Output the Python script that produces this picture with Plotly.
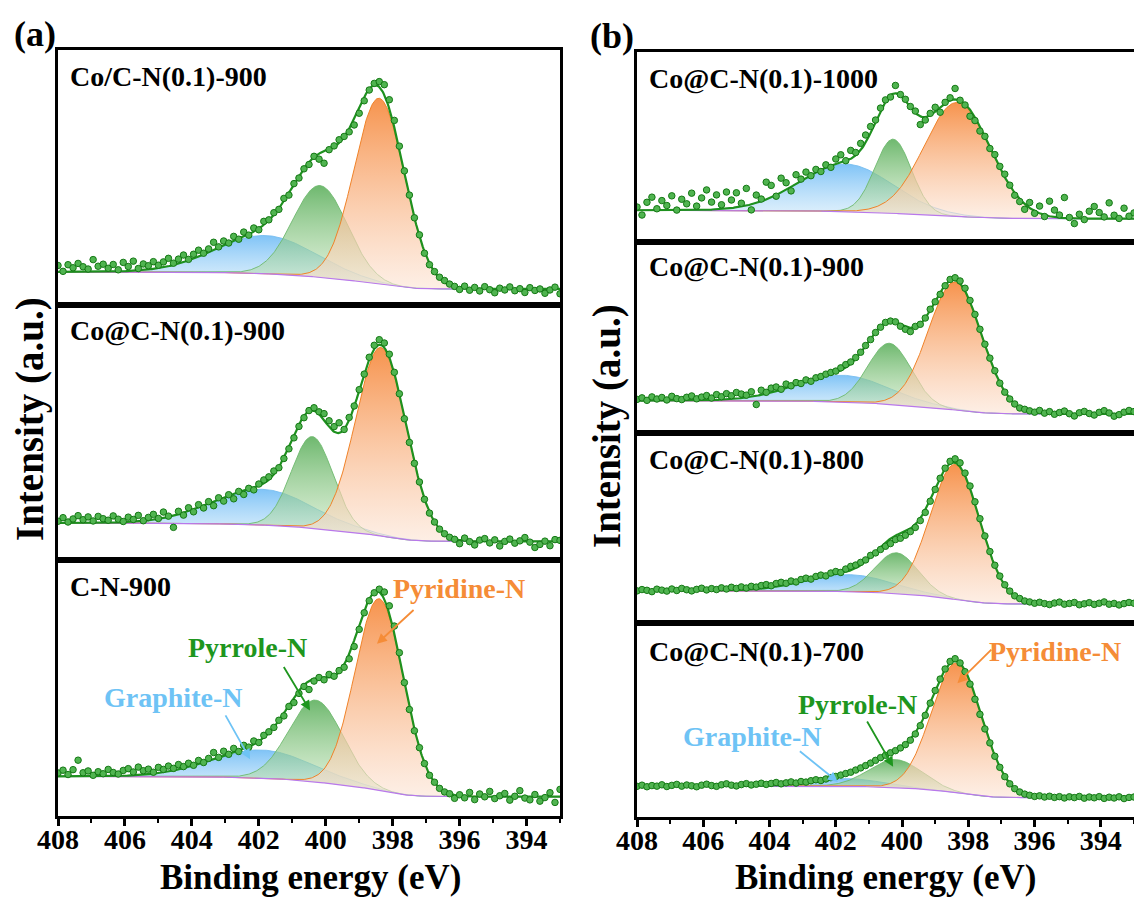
import numpy as np
import plotly.graph_objects as go

W, H = 1134, 900

# Binding-energy grid of the recorded spectra (eV) and of the fitted curves
BE = np.linspace(408.0, 393.0, 101)
FIT_BE = np.linspace(408.0, 393.0, 601)

TICK_VALUES = [408, 406, 404, 402, 400, 398, 396, 394]
TICK_LABELS = ["408", "406", "404", "402", "400", "398", "396", "394"]

COMPONENTS = ["Graphite-N", "Pyrrole-N", "Pyridine-N"]

# Fitted components: [centre (eV), height, sigma] for Graphite-N, Pyrrole-N, Pyridine-N
# Background: [high-BE level, low-BE level]  (intensity in % of each sub-frame)
A1_NAME = "Co/C-N(0.1)-900"
A1_PEAKS = [[401.8, 15, 1.49], [400.17, 36, 0.81], [398.4, 73, 0.75]]
A1_BG = [13.0, 6.3]
A1_DATA = [15.5, 13.2, 15.8, 14.6, 16.3, 15.0, 14.1, 17.8, 15.2, 16.0,
           14.4, 15.9, 13.8, 16.7, 15.1, 17.2, 14.3, 16.1, 15.4, 17.0,
           15.6, 16.9, 18.3, 16.4, 18.0, 19.6, 17.9, 19.9, 21.5, 20.3,
           22.0, 24.6, 22.8, 25.1, 24.3, 26.9, 25.8, 28.6, 27.4, 30.2,
           29.5, 32.8, 33.4, 36.2, 37.5, 41.8, 43.1, 47.6, 49.8, 53.4,
           55.1, 58.3, 57.2, 55.6, 60.9, 62.4, 64.8, 66.1, 67.9, 70.6,
           75.2, 80.1, 84.3, 86.9, 87.6, 86.4, 80.5, 72.4, 62.3, 52.6,
           43.1, 34.2, 27.5, 20.3, 15.8, 13.1, 10.9, 9.6, 8.2, 7.3,
           6.1, 7.4, 5.8, 6.9, 5.5, 7.2, 6.0, 4.8, 6.6, 5.9,
           7.1, 5.6, 6.4, 4.9, 6.8, 5.7, 6.3, 4.6, 5.9, 7.0, 4.4]

A2_NAME = "Co@C-N(0.1)-900"
A2_PEAKS = [[401.9, 14, 1.5], [400.4, 36, 0.62], [398.35, 74, 0.75]]
A2_BG = [14.5, 7.3]
A2_DATA = [15.2, 16.6, 14.9, 16.1, 17.4, 15.8, 16.9, 15.3, 17.1, 16.2,
           15.6, 17.3, 16.0, 15.1, 16.8, 15.9, 17.5, 15.4, 16.7, 17.9,
           16.3, 18.8, 17.2, 12.8, 19.1, 17.6, 20.5, 18.9, 21.7, 20.4,
           22.9, 21.3, 24.4, 23.1, 25.6, 24.0, 26.9, 25.7, 28.1, 27.5,
           29.8, 31.4, 32.6, 34.9, 36.2, 39.8, 43.6, 47.9, 52.4, 55.8,
           58.6, 59.7, 58.1, 57.4, 54.6, 52.3, 53.8, 51.2, 55.9, 60.4,
           66.8, 72.9, 79.5, 84.2, 86.4, 85.1, 80.7, 73.6, 65.2, 55.4,
           46.1, 37.9, 30.6, 23.8, 18.4, 14.9, 12.1, 10.3, 8.9, 8.1,
           6.4, 8.6, 7.2, 5.9, 7.8, 8.4, 6.7, 7.9, 5.5, 7.3,
           8.2, 6.6, 7.5, 8.8, 7.0, 4.9, 6.1, 7.4, 5.6, 8.0, 7.7]

A3_NAME = "C-N-900"
A3_PEAKS = [[401.9, 11, 1.5], [400.3, 32, 0.8], [398.4, 75, 0.72]]
A3_BG = [15.5, 7.6]
A3_DATA = [16.8, 17.9, 16.2, 18.1, 21.8, 16.9, 17.6, 15.9, 17.3, 16.5,
           18.2, 17.0, 16.4, 17.8, 18.5, 17.2, 19.1, 17.7, 18.3, 17.1,
           19.0, 18.2, 19.5, 18.6, 20.1, 19.3, 20.6, 19.8, 21.7, 20.9,
           22.5, 24.8, 22.9, 25.3, 24.1, 26.4, 25.2, 27.6, 26.9, 29.3,
           28.7, 31.5, 32.9, 34.6, 37.4, 39.1, 42.8, 44.3, 47.9, 50.6,
           49.4, 52.7, 54.1, 53.2, 55.3, 54.6, 56.8, 58.1, 61.4, 66.2,
           72.9, 79.4, 84.1, 87.2, 88.6, 87.5, 82.1, 74.2, 63.8, 52.1,
           41.6, 33.3, 26.7, 20.5, 15.9, 13.2, 10.8, 9.4, 8.7, 6.9,
           8.3, 7.1, 9.2, 6.4, 8.6, 7.5, 9.6, 6.8, 7.9, 8.8,
           6.2, 7.7, 9.9, 7.0, 6.3, 8.4, 5.8, 7.2, 9.1, 5.3, 10.4]

B1_NAME = "Co@C-N(0.1)-1000"
B1_PEAKS = [[401.7, 25, 1.4], [400.27, 39, 0.55], [398.33, 60, 1.0]]
B1_BG = [16.7, 12.3]
B1_DATA = [18.4, 14.2, 20.9, 23.6, 17.5, 21.8, 19.2, 24.3, 16.8, 22.5,
           20.1, 25.7, 18.9, 23.2, 27.4, 21.0, 24.8, 19.6, 26.3, 22.1,
           25.9, 20.4, 28.2, 16.9, 24.7, 22.6, 31.5, 29.8, 24.1, 33.6,
           31.2, 26.9, 35.4, 33.1, 36.8, 34.9, 38.2, 37.1, 40.6, 39.3,
           43.7, 45.9, 42.8, 48.2, 47.1, 51.9, 56.3, 60.8, 64.2, 70.5,
           74.8, 76.3, 82.4, 77.6, 75.1, 71.3, 68.9, 61.8, 64.2, 67.7,
           70.9, 68.3, 73.5, 75.9, 80.8, 74.6, 72.1, 66.2, 63.9, 58.4,
           55.6, 49.2, 46.0, 39.8, 35.7, 29.9, 24.6, 21.3, 17.2, 20.8,
           15.1, 18.9, 13.4, 21.5, 16.8, 14.2, 23.4, 12.9, 9.7, 14.6,
           11.8, 16.2, 18.7, 15.5, 13.2, 20.6, 14.1, 12.4, 17.8, 13.6, 15.3]

B2_NAME = "Co@C-N(0.1)-900"
B2_PEAKS = [[401.8, 14, 1.4], [400.38, 32, 0.65], [398.4, 67, 0.8]]
B2_BG = [17.0, 10.0]
B2_DATA = [17.6, 18.4, 17.1, 18.9, 17.8, 18.6, 17.3, 19.2, 18.0, 17.5,
           18.7, 19.4, 17.9, 18.8, 19.6, 18.3, 20.1, 19.0, 20.6, 19.5,
           21.2, 20.4, 19.8, 21.6, 14.9, 22.4, 21.3, 23.5, 24.1, 22.9,
           25.6, 24.7, 26.4, 25.9, 27.8, 27.1, 28.9, 29.6, 30.8, 31.7,
           32.4, 34.1, 35.8, 37.2, 39.5, 42.3, 45.8, 48.9, 52.6, 55.4,
           57.9, 58.6, 58.2, 55.9, 54.3, 53.1, 55.8, 56.9, 60.2, 64.8,
           68.7, 72.6, 77.1, 80.4, 81.3, 79.6, 75.8, 69.4, 62.1, 54.3,
           46.5, 39.2, 32.6, 26.1, 21.4, 17.8, 15.2, 13.1, 12.4, 11.6,
           10.9, 11.8, 10.4, 11.2, 9.8, 10.7, 11.5, 10.1, 8.9, 10.6,
           11.3, 10.2, 9.4, 10.8, 11.7, 10.5, 8.8, 9.6, 10.9, 11.8, 11.2]

B3_NAME = "Co@C-N(0.1)-800"
B3_PEAKS = [[401.6, 9, 1.3], [400.17, 21.5, 0.65], [398.4, 71, 0.75]]
B3_BG = [17.0, 10.0]
B3_DATA = [16.9, 17.6, 17.2, 16.5, 17.8, 17.3, 16.8, 17.9, 17.1, 18.2,
           17.5, 16.9, 17.7, 18.3, 17.4, 18.1, 17.6, 18.5, 17.9, 18.8,
           18.2, 19.0, 18.4, 19.3, 18.9, 19.7, 20.2, 19.6, 20.8, 21.4,
           20.9, 22.1, 21.6, 22.9, 23.6, 23.1, 24.5, 25.2, 24.8, 26.3,
           27.1, 26.6, 28.4, 29.8, 30.5, 31.9, 33.2, 35.6, 36.9, 38.7,
           40.4, 41.8, 43.9, 44.6, 46.2, 48.1, 50.3, 53.9, 58.2, 64.1,
           70.3, 76.2, 81.5, 85.1, 86.4, 84.3, 78.9, 72.1, 63.8, 54.9,
           45.8, 37.6, 30.4, 24.7, 20.1, 16.8, 14.3, 12.9, 11.6, 11.1,
           10.4, 10.9, 10.2, 9.7, 10.5, 11.0, 9.9, 10.3, 10.8, 9.6,
           10.1, 10.7, 9.8, 10.4, 11.1, 9.9, 10.3, 9.5, 10.2, 10.8, 10.4]

B4_NAME = "Co@C-N(0.1)-700"
B4_PEAKS = [[401.6, 4, 1.0], [400.2, 14.5, 0.8], [398.35, 67, 0.76]]
B4_BG = [16.0, 10.0]
B4_DATA = [15.8, 16.4, 15.6, 16.2, 15.9, 16.6, 15.7, 16.3, 16.8, 15.9,
           16.5, 16.1, 15.6, 16.4, 16.9, 16.2, 15.8, 16.6, 17.1, 16.4,
           16.0, 16.7, 17.2, 16.5, 16.9, 17.4, 16.8, 17.3, 17.8, 17.1,
           17.6, 18.1, 17.5, 18.3, 18.0, 18.7, 19.2, 18.8, 19.6, 20.3,
           20.9, 21.6, 22.4, 23.1, 24.2, 25.3, 26.5, 27.8, 29.2, 30.6,
           31.8, 33.1, 34.2, 35.6, 37.3, 39.6, 42.8, 47.1, 52.4, 58.7,
           65.2, 71.1, 76.3, 80.2, 81.6, 79.4, 74.9, 68.5, 60.7, 52.9,
           45.4, 38.2, 31.3, 25.6, 20.8, 17.1, 14.6, 12.9, 11.8, 11.2,
           10.6, 10.9, 10.3, 10.7, 10.1, 10.5, 9.8, 10.4, 10.0, 10.6,
           9.7, 10.3, 9.9, 10.5, 9.6, 10.2, 9.8, 10.4, 9.5, 10.1, 10.3]

# ---------------------------------------------------------------- styling
SERIF = "Liberation Serif"
FILL_TOP = ["rgba(105,185,245,0.85)", "rgba(85,172,85,0.85)", "rgba(246,138,62,0.92)"]
FILL_BOT = ["rgba(205,232,250,0.55)", "rgba(200,230,190,0.5)", "rgba(252,228,212,0.6)"]
EDGE = ["rgba(120,190,240,0.9)", "rgba(110,185,110,0.9)", "rgba(240,130,40,1)"]
LABEL_COL = ["rgb(110,195,245)", "rgb(30,150,30)", "rgb(245,140,55)"]

# sub-frame geometry in pixels: (left, right, top, bottom)
FRAMES = [
    (58, 560, 50, 305), (58, 560, 305, 560), (58, 560, 560, 816),
    (637, 1134, 52, 242), (637, 1134, 242, 433), (637, 1134, 433, 623), (637, 1134, 623, 817),
]
SPECTRA = [
    (A1_NAME, A1_PEAKS, A1_BG, A1_DATA), (A2_NAME, A2_PEAKS, A2_BG, A2_DATA),
    (A3_NAME, A3_PEAKS, A3_BG, A3_DATA), (B1_NAME, B1_PEAKS, B1_BG, B1_DATA),
    (B2_NAME, B2_PEAKS, B2_BG, B2_DATA), (B3_NAME, B3_PEAKS, B3_BG, B3_DATA),
    (B4_NAME, B4_PEAKS, B4_BG, B4_DATA),
]
LABEL_Y = [89.5, 90, 89.5, 86, 87, 86, 85.3]
BOTTOM = {2, 6}


def gauss(x, c, h, s):
    return h * np.exp(-(x - c) ** 2 / (2 * s * s))


def shirley(x, peaks, hi, lo):
    tot = sum(gauss(x, *p) for p in peaks)
    rev = tot[::-1]
    cum = np.concatenate([[0.0], np.cumsum((rev[1:] + rev[:-1]) / 2)])[::-1]
    return lo + (hi - lo) * cum / cum[0]


fig = go.Figure()
layout = {}
annotations = []

for k, ((name, peaks, bg, data), (l, r, t, b)) in enumerate(zip(SPECTRA, FRAMES)):
    i = k + 1
    xa = "x" if i == 1 else f"x{i}"
    ya = "y" if i == 1 else f"y{i}"
    base = shirley(FIT_BE, peaks, bg[0], bg[1])
    for j, p in enumerate(peaks):
        fig.add_trace(go.Scatter(x=FIT_BE, y=base, mode="lines", line=dict(width=0, color="rgba(0,0,0,0)"),
                                 xaxis=xa, yaxis=ya, showlegend=False, hoverinfo="skip"))
        fig.add_trace(go.Scatter(
            x=FIT_BE, y=base + gauss(FIT_BE, *p), mode="lines", fill="tonexty",
            fillgradient=dict(type="vertical", colorscale=[[0, FILL_BOT[j]], [1, FILL_TOP[j]]]),
            line=dict(width=1, color=EDGE[j]), name=COMPONENTS[j],
            xaxis=xa, yaxis=ya, showlegend=False, hoverinfo="skip"))
    env = base + sum(gauss(FIT_BE, *p) for p in peaks)
    fig.add_trace(go.Scatter(x=FIT_BE, y=base, mode="lines", line=dict(width=1.2, color="rgb(185,120,235)"),
                             xaxis=xa, yaxis=ya, showlegend=False, hoverinfo="skip"))
    fig.add_trace(go.Scatter(x=FIT_BE, y=env, mode="lines", line=dict(width=2.2, color="rgb(30,145,30)"),
                             xaxis=xa, yaxis=ya, showlegend=False, hoverinfo="skip"))
    fig.add_trace(go.Scatter(x=BE, y=data, mode="markers",
                             marker=dict(size=6.5, color="rgb(80,180,80)",
                                         line=dict(width=1, color="rgb(20,120,20)")),
                             xaxis=xa, yaxis=ya, showlegend=False, hoverinfo="skip", cliponaxis=True))

    xkey = "xaxis" if i == 1 else f"xaxis{i}"
    ykey = "yaxis" if i == 1 else f"yaxis{i}"
    bottom = k in BOTTOM
    xdef = dict(domain=[l / W, r / W], range=[408, 393], anchor=ya, showgrid=False, zeroline=False,
                showline=True, linecolor="black", linewidth=3, mirror=True, automargin=False)
    if bottom:
        xdef.update(ticks="outside", ticklen=7, tickwidth=2.5, tickcolor="black",
                    tickvals=TICK_VALUES, ticktext=TICK_LABELS, showticklabels=True,
                    tickfont=dict(family=SERIF, size=28, color="black", weight="bold"),
                    ticklabelstandoff=-11,
                    minor=dict(dtick=1, tick0=393, ticks="outside", ticklen=4, tickwidth=2, tickcolor="black"))
    else:
        xdef.update(ticks="", showticklabels=False)
    layout[xkey] = xdef
    layout[ykey] = dict(domain=[1 - b / H, 1 - t / H], range=[0, 100], anchor=xa, showgrid=False,
                        zeroline=False, showticklabels=False, ticks="", showline=True, automargin=False,
                        linecolor="black", linewidth=3, mirror=(k < 3))
    annotations.append(dict(text=name, x=407.7, y=LABEL_Y[k], xref=xa, yref=ya, xanchor="left",
                            yanchor="middle", showarrow=False,
                            font=dict(family=SERIF, size=28, color="black", weight="bold")))

# species labels with arrows (sub-frames 3 and 7)
LABEL_POS = {
    2: [(404.56, 46.4), (402.34, 66.0), (396.03, 88.9)],
    6: [(404.53, 41.4), (401.35, 57.8), (395.37, 85.3)],
}
ARROWS = {
    2: [((403.02, 39.9), (402.26, 22.2)), ((401.28, 58.8), (400.47, 41.2)), ((397.33, 81.0), (398.47, 67.3))],
    6: [((403.13, 34.5), (401.94, 18.1)), ((401.08, 50.0), (400.27, 25.9)), ((397.26, 87.0), (398.33, 69.0))],
}
for k in (2, 6):
    i = k + 1
    xa, ya = f"x{i}", f"y{i}"
    for j in range(3):
        tx, ty = LABEL_POS[k][j]
        annotations.append(dict(text=COMPONENTS[j], x=tx, y=ty, xref=xa, yref=ya, showarrow=False,
                                xanchor="center", yanchor="middle",
                                font=dict(family=SERIF, size=28, color=LABEL_COL[j], weight="bold")))
        (ax_, ay_), (hx, hy) = ARROWS[k][j]
        annotations.append(dict(text="", x=hx, y=hy, ax=ax_, ay=ay_, xref=xa, yref=ya, axref=xa, ayref=ya,
                                showarrow=True, arrowhead=2, arrowsize=1.1, arrowwidth=1.8,
                                arrowcolor=LABEL_COL[j]))

# panel letters and axis titles
for txt, px, py in (("(a)", 35, 34), ("(b)", 612, 36)):
    annotations.append(dict(text=txt, x=px / W, y=1 - py / H, xref="paper", yref="paper", showarrow=False,
                            xanchor="center", yanchor="middle",
                            font=dict(family=SERIF, size=36, color="black", weight="bold")))
for px in (310, 885):
    annotations.append(dict(text="Binding energy (eV)", x=px / W, y=1 - 877 / H, xref="paper", yref="paper",
                            showarrow=False, xanchor="center", yanchor="middle",
                            font=dict(family=SERIF, size=35, color="black", weight="bold")))
for px, py in ((30, 419), (607, 426)):
    annotations.append(dict(text="Intensity (a.u.)", x=px / W, y=1 - py / H, xref="paper", yref="paper",
                            showarrow=False, xanchor="center", yanchor="middle", textangle=-90,
                            font=dict(family=SERIF, size=39, color="black", weight="bold")))

fig.update_layout(width=W, height=H, margin=dict(l=0, r=0, t=0, b=0, pad=0), paper_bgcolor="white",
                  plot_bgcolor="white", showlegend=False, hovermode=False, annotations=annotations, **layout)
fig.write_html("out.html")
